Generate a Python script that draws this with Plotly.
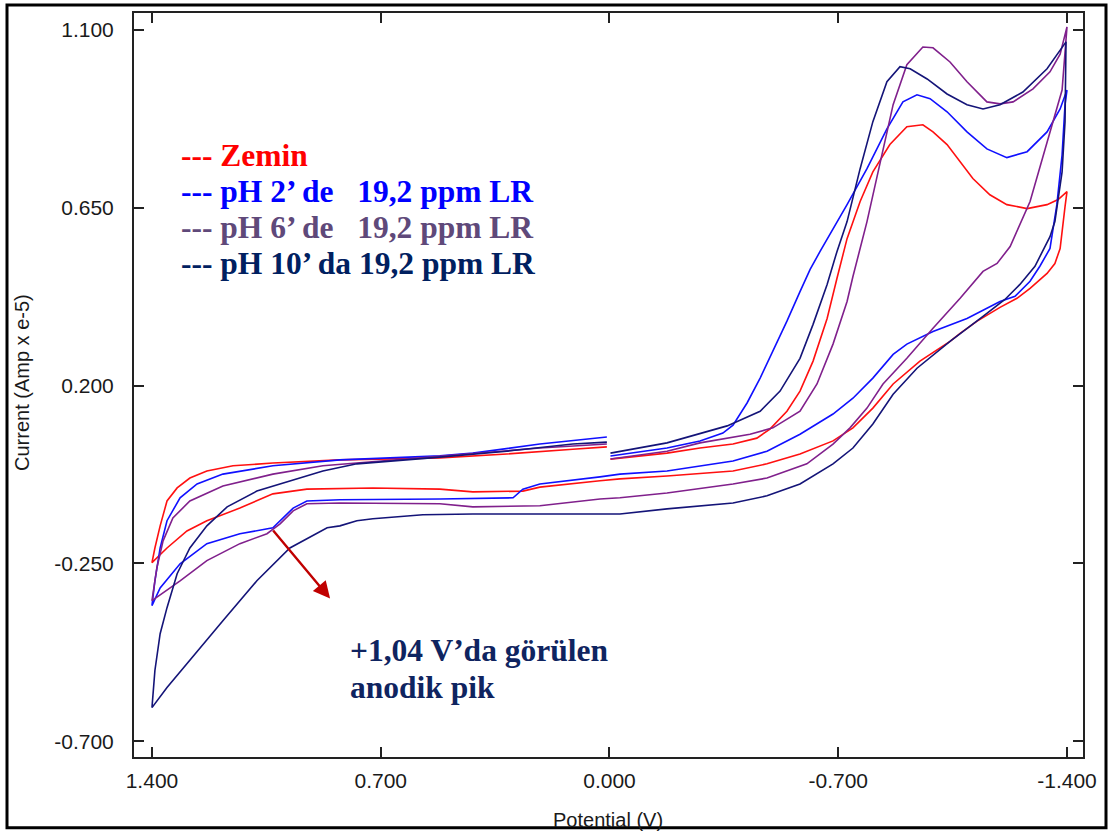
import plotly.graph_objects as go

# ---------------- data (Potential V, Current Amp x e-5) ----------------
red_v = [-0.003, -0.093, -0.176, -0.277, -0.378, -0.451, -0.491, -0.543, -0.583, -0.623, -0.666, -0.696,
         -0.727, -0.767, -0.806, -0.858, -0.910, -0.959, -0.990, -1.033, -1.073, -1.112, -1.164, -1.216,
         -1.278, -1.339, -1.373, -1.400,
         -1.394, -1.388, -1.379, -1.363, -1.339, -1.287, -1.247, -1.195, -1.125, -1.073, -1.042, -0.950,
         -0.868, -0.806, -0.745, -0.684, -0.583, -0.482, -0.378, -0.176, -0.032, 0.029, 0.213, 0.265,
         0.418, 0.519, 0.724, 0.926, 1.030, 1.131, 1.232, 1.293, 1.354, 1.400,
         1.391, 1.375, 1.354, 1.323, 1.284, 1.232, 1.152, 1.030, 0.825, 0.519, 0.314, 0.112, 0.008]
red_i = [0.014, 0.022, 0.029, 0.042, 0.052, 0.067, 0.090, 0.135, 0.186, 0.262, 0.370, 0.471,
         0.572, 0.666, 0.741, 0.810, 0.855, 0.860, 0.842, 0.810, 0.767, 0.724, 0.683, 0.658,
         0.648, 0.658, 0.671, 0.691,
         0.653, 0.615, 0.547, 0.509, 0.484, 0.446, 0.421, 0.398, 0.363, 0.332, 0.312, 0.262,
         0.204, 0.143, 0.093, 0.060, 0.027, 0.002, -0.016, -0.029, -0.036, -0.041, -0.057, -0.067,
         -0.069, -0.062, -0.059, -0.062, -0.074, -0.110, -0.142, -0.168, -0.211, -0.248,
         -0.211, -0.155, -0.092, -0.059, -0.034, -0.016, -0.003, 0.004, 0.012, 0.017, 0.027, 0.039, 0.045]

blue_v = [-0.003, -0.093, -0.176, -0.277, -0.347, -0.378, -0.421, -0.461, -0.500, -0.543, -0.583, -0.614,
          -0.644, -0.684, -0.727, -0.788, -0.849, -0.898, -0.941, -0.981, -1.033, -1.094, -1.155, -1.216,
          -1.278, -1.339, -1.379, -1.400,
          -1.394, -1.385, -1.369, -1.348, -1.317, -1.287, -1.241, -1.195, -1.094, -0.990, -0.910, -0.868,
          -0.806, -0.745, -0.684, -0.583, -0.482, -0.378, -0.176, -0.032, 0.029, 0.213, 0.265, 0.295,
          0.519, 0.825, 0.926, 0.968, 0.999, 1.030, 1.131, 1.232, 1.314, 1.375, 1.400,
          1.391, 1.375, 1.354, 1.314, 1.262, 1.183, 1.030, 0.825, 0.519, 0.418, 0.213, 0.008]
blue_i = [0.022, 0.032, 0.042, 0.060, 0.080, 0.100, 0.156, 0.219, 0.287, 0.363, 0.438, 0.494,
          0.539, 0.595, 0.658, 0.749, 0.850, 0.918, 0.936, 0.926, 0.893, 0.842, 0.799, 0.777,
          0.792, 0.842, 0.900, 0.948,
          0.911, 0.784, 0.658, 0.547, 0.502, 0.464, 0.426, 0.413, 0.370, 0.337, 0.305, 0.279,
          0.219, 0.168, 0.128, 0.077, 0.034, 0.009, -0.016, -0.024, -0.031, -0.049, -0.062, -0.084,
          -0.087, -0.089, -0.092, -0.110, -0.135, -0.160, -0.175, -0.200, -0.251, -0.312, -0.357,
          -0.294, -0.211, -0.142, -0.084, -0.049, -0.024, -0.003, 0.012, 0.022, 0.029, 0.052, 0.070]

purple_v = [-0.003, -0.176, -0.277, -0.430, -0.500, -0.583, -0.635, -0.684, -0.727, -0.745, -0.788, -0.828,
            -0.868, -0.910, -0.959, -0.990, -1.042, -1.094, -1.155, -1.195, -1.235, -1.296, -1.348, -1.379,
            -1.400,
            -1.385, -1.357, -1.327, -1.287, -1.226, -1.186, -1.143, -1.073, -0.990, -0.910, -0.837, -0.788,
            -0.736, -0.684, -0.604, -0.482, -0.378, -0.176, -0.032, 0.029, 0.213, 0.418, 0.519, 0.825,
            0.926, 0.968, 1.008, 1.048, 1.131, 1.232, 1.314, 1.400,
            1.385, 1.366, 1.336, 1.284, 1.183, 1.030, 0.877, 0.620, 0.418, 0.213, 0.008]
purple_i = [0.014, 0.034, 0.055, 0.077, 0.093, 0.135, 0.204, 0.305, 0.413, 0.476, 0.615, 0.767,
            0.911, 1.012, 1.057, 1.055, 1.019, 0.969, 0.918, 0.913, 0.918, 0.951, 0.994, 1.039,
            1.108,
            0.948, 0.868, 0.779, 0.666, 0.552, 0.509, 0.489, 0.421, 0.345, 0.269, 0.204, 0.143,
            0.093, 0.052, 0.002, -0.034, -0.049, -0.072, -0.084, -0.087, -0.104, -0.107, -0.099, -0.097,
            -0.099, -0.117, -0.150, -0.175, -0.200, -0.243, -0.294, -0.344,
            -0.261, -0.193, -0.135, -0.092, -0.054, -0.024, -0.003, 0.014, 0.027, 0.042, 0.052]

navy_v = [-0.003, -0.176, -0.360, -0.461, -0.522, -0.583, -0.623, -0.666, -0.696, -0.727, -0.767, -0.806,
          -0.849, -0.889, -0.920, -0.972, -1.033, -1.094, -1.143, -1.195, -1.265, -1.339, -1.397,
          -1.394, -1.385, -1.363, -1.348, -1.302, -1.256, -1.210, -1.143, -1.042, -0.941, -0.868, -0.806,
          -0.745, -0.684, -0.583, -0.482, -0.378, -0.176, -0.032, 0.418, 0.571, 0.724, 0.773, 0.825,
          0.864, 0.978, 1.079, 1.183, 1.284, 1.354, 1.400,
          1.391, 1.375, 1.354, 1.323, 1.284, 1.232, 1.170, 1.079, 0.978, 0.877, 0.773, 0.620, 0.519,
          0.314, 0.112, 0.008]
navy_i = [0.029, 0.055, 0.098, 0.135, 0.186, 0.269, 0.355, 0.456, 0.539, 0.615, 0.749, 0.868,
          0.969, 1.007, 1.002, 0.976, 0.938, 0.911, 0.900, 0.911, 0.943, 1.002, 1.070,
          0.868, 0.741, 0.615, 0.577, 0.502, 0.456, 0.418, 0.375, 0.312, 0.244, 0.178, 0.103,
          0.042, 0.002, -0.049, -0.079, -0.097, -0.112, -0.125, -0.125, -0.127, -0.137, -0.142, -0.155,
          -0.160, -0.211, -0.294, -0.395, -0.496, -0.564, -0.615,
          -0.521, -0.428, -0.362, -0.276, -0.211, -0.155, -0.107, -0.067, -0.041, -0.016, 0.002, 0.012, 0.019,
          0.034, 0.052, 0.057]

x_ticks = [1.4, 0.7, 0.0, -0.7, -1.4]
x_labels = ["1.400", "0.700", "0.000", "-0.700", "-1.400"]
y_ticks = [1.1, 0.65, 0.2, -0.25, -0.7]
y_labels = ["1.100", "0.650", "0.200", "-0.250", "-0.700"]

legend_lines = ["--- Zemin",
                "--- pH 2\u2019 de \u00a0 19,2 ppm LR",
                "--- pH 6\u2019 de \u00a0 19,2 ppm LR",
                "--- pH 10\u2019 da 19,2 ppm LR"]
legend_colors = ["#ff0000", "#0000ff", "#5f497a", "#002060"]

series = [
    ("Zemin", red_v, red_i, "#ff1010"),
    ("pH 2", blue_v, blue_i, "#1010ff"),
    ("pH 6", purple_v, purple_i, "#80208c"),
    ("pH 10", navy_v, navy_i, "#141478"),
]

# ---------------- figure ----------------
W, H = 1113, 833
L, R, T, B = 134, 30, 11, 76
pw, ph = W - L - R, H - T - B


def px(xp):
    return (xp - L) / pw


def py(yp):
    return (H - B - yp) / ph


fig = go.Figure()
for name, v, i, c in series:
    fig.add_trace(go.Scatter(x=v, y=i, mode="lines", name=name,
                             line=dict(color=c, width=1.6), showlegend=False))

axis_common = dict(ticks="inside", ticklen=10, tickwidth=2, tickcolor="#222",
                   showline=True, linecolor="#222", linewidth=2, mirror="ticks",
                   showgrid=False, zeroline=False,
                   tickfont=dict(family="Liberation Sans, Arial, sans-serif", size=21, color="#1a1a1a"))

fig.update_xaxes(range=[1.455, -1.449], tickvals=x_ticks, ticktext=x_labels,
                 ticklabelstandoff=4, **axis_common)
fig.update_yaxes(range=[-0.740, 1.143], tickvals=y_ticks, ticktext=y_labels,
                 ticklabelstandoff=14, **axis_common)

annotations = []
# axis titles
annotations.append(dict(text="Potential (V)", xref="paper", yref="paper", x=px(608), y=py(820),
                        xanchor="center", yanchor="middle", showarrow=False,
                        font=dict(family="Liberation Sans, Arial, sans-serif", size=20, color="#1a1a1a")))
annotations.append(dict(text="Current (Amp x e-5)", xref="paper", yref="paper", x=px(22), y=py(382),
                        xanchor="center", yanchor="middle", showarrow=False, textangle=-90,
                        font=dict(family="Liberation Sans, Arial, sans-serif", size=20, color="#1a1a1a")))
# legend text
for k, (t, c) in enumerate(zip(legend_lines, legend_colors)):
    annotations.append(dict(text="<b>%s</b>" % t, xref="paper", yref="paper", x=px(179),
                            y=py(154 + 36 * k), xanchor="left", yanchor="middle", showarrow=False,
                            font=dict(family="Liberation Serif, Times New Roman, serif", size=31.5, color=c)))
# anodic peak note
annotations.append(dict(text="<b>+1,04 V\u2019da görülen</b>", xref="paper", yref="paper", x=px(348),
                        y=py(650), xanchor="left", yanchor="middle", showarrow=False,
                        font=dict(family="Liberation Serif, Times New Roman, serif", size=31.5, color="#0f2460")))
annotations.append(dict(text="<b>anodik pik</b>", xref="paper", yref="paper", x=px(348),
                        y=py(687), xanchor="left", yanchor="middle", showarrow=False,
                        font=dict(family="Liberation Serif, Times New Roman, serif", size=31.5, color="#0f2460")))
# arrow
annotations.append(dict(text="", x=0.855, y=-0.339, ax=1.033, ay=-0.163, xref="x", yref="y",
                        axref="x", ayref="y", showarrow=True, arrowhead=2, arrowsize=1.4,
                        arrowwidth=2.4, arrowcolor="#c00000"))

fig.update_layout(
    width=W, height=H,
    margin=dict(l=L, r=R, t=T, b=B),
    paper_bgcolor="white", plot_bgcolor="white",
    annotations=annotations,
    shapes=[dict(type="rect", xref="paper", yref="paper",
                 x0=px(7), x1=px(1106), y0=py(828), y1=py(3),
                 line=dict(color="black", width=3), fillcolor="rgba(0,0,0,0)", layer="above")],
)

fig.write_html("out.html")
